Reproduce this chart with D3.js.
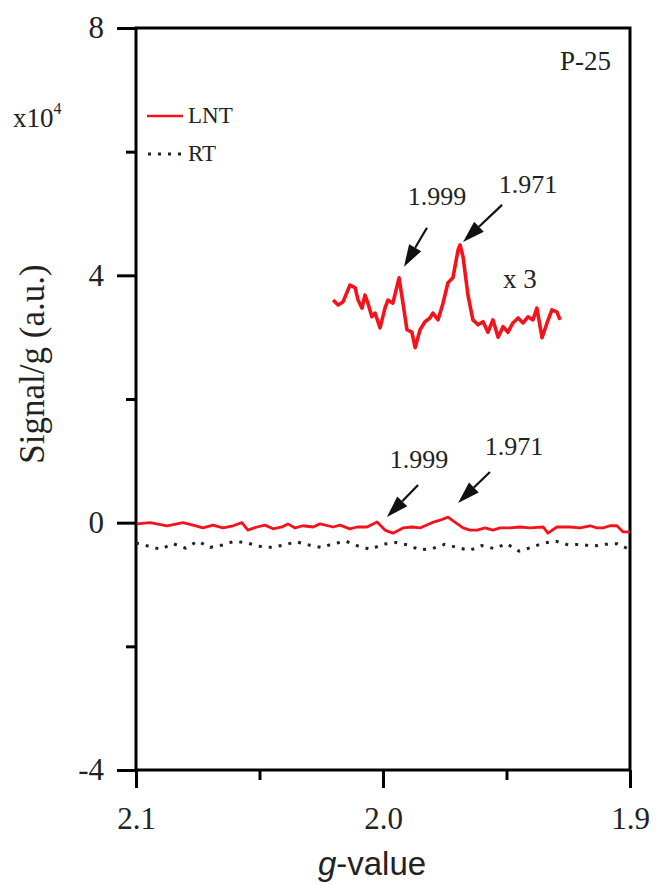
<!DOCTYPE html>
<html>
<head>
<meta charset="utf-8">
<script src="https://cdn.jsdelivr.net/npm/d3@7"></script>
<style>
  body { margin: 0; background: #fff; }
  svg { display: block; }
</style>
</head>
<body>
<svg id="chart" width="657" height="885"></svg>
<script>
// LNT spectrum (x1), g-value and signal/g in units of 1e4
const lntG = [2.0996, 2.0943, 2.0874, 2.0810, 2.0769, 2.0729, 2.0688, 2.0648, 2.0607, 2.0571,
  2.0547, 2.0510, 2.0478, 2.0445, 2.0409, 2.0385, 2.0356, 2.0324, 2.0283, 2.0255,
  2.0202, 2.0174, 2.0134, 2.0105, 2.0065, 2.0024, 1.9992, 1.9960, 1.9919, 1.9883,
  1.9850, 1.9802, 1.9769, 1.9737, 1.9709, 1.9676, 1.9648, 1.9619, 1.9587, 1.9555,
  1.9526, 1.9486, 1.9445, 1.9405, 1.9352, 1.9332, 1.9296, 1.9243, 1.9202, 1.9162,
  1.9134, 1.9109, 1.9081, 1.9053, 1.9028, 1.9000];
const lntVal = [-0.02, 0, -0.05, 0, -0.04, -0.085, -0.04, -0.085, -0.05, 0,
  -0.12, -0.07, -0.04, -0.10, -0.07, -0.02, -0.085, -0.05, -0.07, -0.02,
  -0.07, -0.04, -0.10, -0.07, -0.07, 0.01, -0.12, -0.17, -0.085, -0.07,
  -0.085, 0, 0.04, 0.09, 0.01, -0.085, -0.12, -0.12, -0.085, -0.12,
  -0.085, -0.085, -0.07, -0.085, -0.07, -0.17, -0.07, -0.07, -0.085, -0.05,
  -0.085, -0.085, -0.05, -0.05, -0.15, -0.15];

// LNT spectrum magnified x3 and shifted up
const magG = [2.0202, 2.0182, 2.0162, 2.0134, 2.0113, 2.0101, 2.0085, 2.0073, 2.0061, 2.0045,
  2.0032, 2.0012, 1.9992, 1.9980, 1.9960, 1.9935, 1.9919, 1.9903, 1.9883, 1.9870,
  1.9850, 1.9830, 1.9810, 1.9798, 1.9777, 1.9757, 1.9737, 1.9717, 1.9696, 1.9688,
  1.9676, 1.9656, 1.9636, 1.9615, 1.9595, 1.9575, 1.9555, 1.9534, 1.9514, 1.9494,
  1.9474, 1.9453, 1.9433, 1.9413, 1.9393, 1.9377, 1.9356, 1.9336, 1.9316, 1.9296, 1.9283];
const magVal = [3.60, 3.52, 3.57, 3.84, 3.80, 3.60, 3.47, 3.68, 3.55, 3.33,
  3.39, 3.15, 3.47, 3.60, 3.55, 3.96, 3.55, 3.12, 3.08, 2.83,
  3.12, 3.25, 3.31, 3.39, 3.28, 3.55, 3.88, 3.96, 4.41, 4.49,
  4.30, 3.68, 3.28, 3.20, 3.25, 3.08, 3.28, 3.00, 3.17, 3.08,
  3.23, 3.31, 3.23, 3.33, 3.28, 3.47, 2.99, 3.23, 3.44, 3.41, 3.28];

// RT spectrum
const rtG = [2.100, 2.095, 2.090, 2.085, 2.080, 2.075, 2.070, 2.065, 2.060, 2.055,
  2.050, 2.045, 2.040, 2.035, 2.030, 2.025, 2.020, 2.015, 2.010, 2.005,
  2.000, 1.995, 1.990, 1.985, 1.980, 1.975, 1.970, 1.965, 1.960, 1.955,
  1.950, 1.945, 1.940, 1.935, 1.930, 1.925, 1.920, 1.915, 1.910, 1.905, 1.900];
const rtVal = [-0.33, -0.38, -0.43, -0.34, -0.41, -0.30, -0.40, -0.36, -0.30, -0.33,
  -0.38, -0.40, -0.36, -0.31, -0.36, -0.40, -0.34, -0.30, -0.38, -0.43,
  -0.35, -0.32, -0.36, -0.44, -0.42, -0.35, -0.40, -0.45, -0.37, -0.42,
  -0.34, -0.46, -0.40, -0.33, -0.30, -0.36, -0.35, -0.38, -0.35, -0.34, -0.44];

const xMajor = [2.1, 2.0, 1.9];
const xMinor = [2.05, 1.95];
const yMajor = [-4, 0, 4, 8];
const yMinor = [-2, 2, 6];

// peak labels: text position and arrow (from -> tip), data coordinates
const peakLabels = ["1.999", "1.971", "1.999", "1.971"];
const peakText = [[1.9781, 5.14], [1.9413, 5.33], [1.9854, 0.88], [1.9470, 1.10]];
const arrowFrom = [[1.9822, 4.77], [1.9518, 5.14], [1.9858, 0.61], [1.9567, 0.82]];
const arrowTip = [[1.9915, 4.14], [1.9676, 4.54], [1.9984, 0.09], [1.9696, 0.32]];

const svg = d3.select("#chart");
const plotL = 136, plotR = 630, plotT = 28, plotB = 770;
const serif = "Liberation Serif, Times New Roman, serif";
const sans = "Liberation Sans, Arial, sans-serif";
const red = "#f5131b";

const x = d3.scaleLinear().domain([2.1, 1.9]).range([plotL, plotR]);
const y = d3.scaleLinear().domain([-4, 8]).range([plotB, plotT]);

const line = d3.line()
    .x(d => x(d[0]))
    .y(d => y(d[1]));

// frame
svg.append("rect")
    .attr("x", plotL).attr("y", plotT)
    .attr("width", plotR - plotL).attr("height", plotB - plotT)
    .attr("fill", "none")
    .attr("stroke", "#000")
    .attr("stroke-width", 3);

function styleAxis(g) {
    g.attr("font-family", serif).attr("font-size", 31);
    g.select(".domain").remove();
    g.selectAll(".tick line").attr("stroke", "#000").attr("stroke-width", 3);
    g.selectAll("text")
        .style("font-family", serif)
        .style("font-size", "31px")
        .attr("fill", "#222");
}

svg.append("g")
    .attr("transform", `translate(${plotL},0)`)
    .call(d3.axisLeft(y).tickValues(yMajor).tickSize(19).tickPadding(13).tickFormat(d => String(d)))
    .call(styleAxis);
svg.append("g")
    .attr("transform", `translate(${plotL},0)`)
    .call(d3.axisLeft(y).tickValues(yMinor).tickSize(10).tickFormat(""))
    .call(styleAxis);

svg.append("g")
    .attr("transform", `translate(0,${plotB})`)
    .call(d3.axisBottom(x).tickValues(xMajor).tickSize(18).tickPadding(19).tickFormat(d3.format(".1f")))
    .call(styleAxis);
svg.append("g")
    .attr("transform", `translate(0,${plotB})`)
    .call(d3.axisBottom(x).tickValues(xMinor).tickSize(10).tickFormat(""))
    .call(styleAxis);

// series
svg.append("path")
    .datum(d3.zip(rtG, rtVal))
    .attr("fill", "none")
    .attr("stroke", "#222")
    .attr("stroke-width", 3)
    .attr("stroke-dasharray", "3,7")
    .attr("d", line);

svg.append("path")
    .datum(d3.zip(lntG, lntVal))
    .attr("fill", "none")
    .attr("stroke", red)
    .attr("stroke-width", 2.8)
    .attr("stroke-linejoin", "round")
    .attr("d", line);

svg.append("path")
    .datum(d3.zip(magG, magVal))
    .attr("fill", "none")
    .attr("stroke", red)
    .attr("stroke-width", 3.6)
    .attr("stroke-linejoin", "round")
    .attr("d", line);

// arrows
peakLabels.forEach((label, i) => {
    const x0 = x(arrowFrom[i][0]), y0 = y(arrowFrom[i][1]);
    const x1 = x(arrowTip[i][0]), y1 = y(arrowTip[i][1]);
    const len = Math.hypot(x1 - x0, y1 - y0);
    const ux = (x1 - x0) / len, uy = (y1 - y0) / len;
    const headLen = 22, headW = 7;
    const bx = x1 - ux * headLen, by = y1 - uy * headLen;
    svg.append("line")
        .attr("x1", x0).attr("y1", y0)
        .attr("x2", bx).attr("y2", by)
        .attr("stroke", "#111")
        .attr("stroke-width", 2.2);
    svg.append("polygon")
        .attr("points", [[x1, y1], [bx - uy * headW, by + ux * headW], [bx + uy * headW, by - ux * headW]].join(" "))
        .attr("fill", "#111");
    svg.append("text")
        .attr("x", x(peakText[i][0]))
        .attr("y", y(peakText[i][1]))
        .attr("text-anchor", "middle")
        .attr("font-family", serif)
        .attr("font-size", 26)
        .attr("fill", "#222")
        .text(label);
});

svg.append("text")
    .attr("x", x(1.9514)).attr("y", y(3.8))
    .attr("font-family", serif).attr("font-size", 27).attr("fill", "#222")
    .text("x 3");

svg.append("text")
    .attr("x", 611).attr("y", 70)
    .attr("text-anchor", "end")
    .attr("font-family", serif).attr("font-size", 27).attr("fill", "#222")
    .text("P-25");

// multiplier
const mult = svg.append("text")
    .attr("x", 13).attr("y", 127)
    .attr("font-family", serif).attr("font-size", 27).attr("fill", "#222");
mult.append("tspan").text("x10");
mult.append("tspan").attr("dy", -13).attr("font-size", 16).text("4");

// legend
svg.append("line")
    .attr("x1", 147).attr("x2", 183).attr("y1", 116).attr("y2", 116)
    .attr("stroke", red).attr("stroke-width", 2.5);
svg.append("text")
    .attr("x", 188).attr("y", 123)
    .attr("font-family", serif).attr("font-size", 23).attr("fill", "#222")
    .text("LNT");
svg.append("line")
    .attr("x1", 148).attr("x2", 182).attr("y1", 154).attr("y2", 154)
    .attr("stroke", "#222").attr("stroke-width", 3)
    .attr("stroke-dasharray", "3,7");
svg.append("text")
    .attr("x", 188).attr("y", 161)
    .attr("font-family", serif).attr("font-size", 23).attr("fill", "#222")
    .text("RT");

// axis titles
svg.append("text")
    .attr("transform", "translate(44,364) rotate(-90)")
    .attr("text-anchor", "middle")
    .attr("font-family", serif).attr("font-size", 35).attr("fill", "#222")
    .text("Signal/g (a.u.)");

const xt = svg.append("text")
    .attr("x", 372).attr("y", 875)
    .attr("text-anchor", "middle")
    .attr("font-family", sans).attr("font-size", 33).attr("fill", "#222");
xt.append("tspan").attr("font-style", "italic").text("g");
xt.append("tspan").text("-value");
</script>
</body>
</html>
